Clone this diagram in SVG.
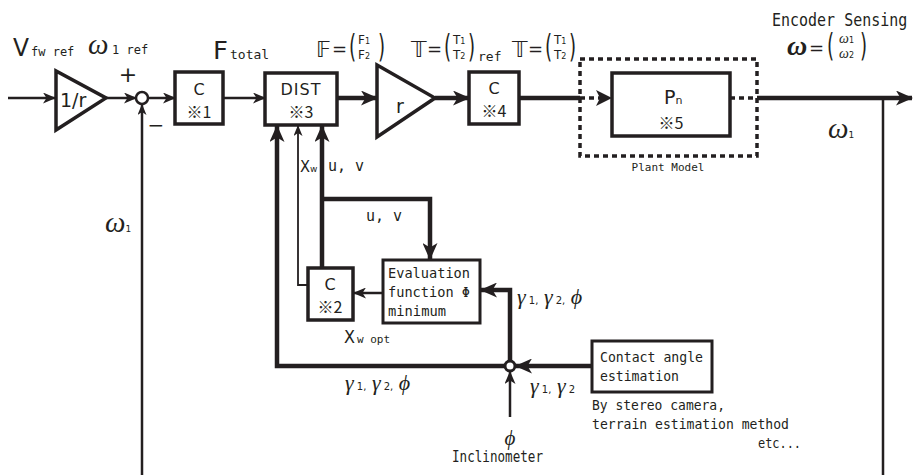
<svg xmlns="http://www.w3.org/2000/svg" width="914" height="475" viewBox="0 0 914 475">
<defs>
<style>
.bx{fill:#fff;stroke:#231f20;stroke-width:3.5}
.bx2{fill:#fff;stroke:#231f20;stroke-width:3}
.ln{fill:none;stroke:#231f20;stroke-width:2.5}
.tn{fill:none;stroke:#231f20;stroke-width:1.8}
.tk{fill:none;stroke:#231f20;stroke-width:4.5}
.dt{fill:none;stroke:#231f20;stroke-width:3.5;stroke-dasharray:5 4}
.t{font-family:"DejaVu Sans Mono","Noto Sans CJK JP",monospace;fill:#231f20}
.j{font-family:"Noto Sans CJK JP","DejaVu Sans",sans-serif;fill:#231f20}
.s{font-family:"DejaVu Sans","Noto Sans CJK JP",sans-serif;fill:#231f20}
.p{font-family:"DejaVu Sans",sans-serif;fill:#231f20;font-size:26px}
.g{font-family:"Liberation Serif","DejaVu Serif",serif;font-style:italic;fill:#231f20}
</style>
<marker id="a" markerUnits="userSpaceOnUse" markerWidth="13" markerHeight="11" refX="12" refY="5.5" orient="auto"><path d="M0,0 L13,5.5 L0,11 L3.5,5.5 Z" fill="#231f20"/></marker>
<marker id="b" markerUnits="userSpaceOnUse" markerWidth="17" markerHeight="15" refX="16" refY="7.5" orient="auto"><path d="M0,0 L17,7.5 L0,15 L4.5,7.5 Z" fill="#231f20"/></marker>
<marker id="c" markerUnits="userSpaceOnUse" markerWidth="11" markerHeight="9" refX="10" refY="4.5" orient="auto"><path d="M0,0 L11,4.5 L0,9 L3,4.5 Z" fill="#231f20"/></marker>
</defs>

<g id="connectors">
<line class="ln" x1="8" y1="98" x2="55" y2="98" marker-end="url(#a)"/>
<line class="ln" x1="106" y1="98" x2="136" y2="98" marker-end="url(#a)"/>
<line class="ln" x1="148" y1="98" x2="175" y2="98" marker-end="url(#a)"/>
<line class="ln" x1="223" y1="98" x2="265" y2="98" marker-end="url(#a)"/>
<line class="tk" x1="337" y1="98" x2="377" y2="98" marker-end="url(#b)"/>
<line class="tk" x1="435" y1="98" x2="469" y2="98" marker-end="url(#b)"/>
<line class="tk" x1="519" y1="98" x2="580" y2="98"/>
<line class="dt" x1="580" y1="98" x2="600" y2="98"/>
<path d="M596,90 L612,98 L596,106 L600,98 Z" fill="#231f20"/>
<line class="dt" x1="730" y1="98" x2="757" y2="98"/>
<line class="tk" x1="757" y1="98" x2="912" y2="98" marker-end="url(#b)"/>
<line class="ln" x1="883" y1="98" x2="883" y2="475"/>
<line class="ln" x1="142" y1="475" x2="142" y2="105" marker-end="url(#c)"/>
<polyline class="tk" points="505,366 277,366 277,126" marker-end="url(#b)"/>
<polyline class="tn" points="308,285 298,285 298,126" marker-end="url(#c)"/>
<line class="tk" x1="322" y1="268" x2="322" y2="126" marker-end="url(#b)"/>
<polyline class="tk" points="322,199 430,199 430,259" marker-end="url(#b)"/>
<line class="ln" x1="383" y1="293" x2="354" y2="293" marker-end="url(#a)"/>
<polyline class="tk" points="510,361 510,290 481,290" marker-end="url(#b)"/>
<line class="tk" x1="592" y1="366" x2="516" y2="366" marker-end="url(#b)"/>
<line class="ln" x1="510" y1="417" x2="510" y2="372" marker-end="url(#a)"/>
</g>

<g id="gain1r">
<polygon class="bx" points="56,71 56,130 106,98"/>
<text class="s" x="60" y="107" font-size="19">1/r</text>
</g>
<g id="sum">
<circle cx="142" cy="98" r="6" fill="#fff" stroke="#231f20" stroke-width="2.5"/>
<text class="s" x="128" y="82" font-size="22" text-anchor="middle">+</text>
<text class="s" x="156" y="132" font-size="20" text-anchor="middle">−</text>
</g>
<g id="c1">
<rect class="bx" x="175" y="72" width="48" height="52"/>
<text class="s" x="199" y="95" font-size="16" text-anchor="middle">C</text>
<text class="j" x="199" y="118" font-size="16" text-anchor="middle">※1</text>
</g>
<g id="dist">
<rect class="bx" x="265" y="73" width="72" height="52"/>
<text class="s" x="301" y="95" font-size="16" text-anchor="middle" letter-spacing="1">DIST</text>
<text class="j" x="301" y="118" font-size="16" text-anchor="middle">※3</text>
</g>
<g id="gainr">
<polygon class="bx" points="377,65 377,137 435,98"/>
<text class="s" x="396" y="113" font-size="19">r</text>
</g>
<g id="c4">
<rect class="bx" x="469" y="72" width="50" height="52"/>
<text class="s" x="494" y="94" font-size="16" text-anchor="middle">C</text>
<text class="j" x="494" y="117" font-size="16" text-anchor="middle">※4</text>
</g>
<g id="plant">
<rect class="dt" x="580" y="59" width="177" height="97"/>
<rect class="bx" x="612" y="73" width="118" height="63"/>
<text class="s" x="664" y="104" font-size="19">P<tspan font-size="11">n</tspan></text>
<text class="j" x="671" y="129" font-size="16" text-anchor="middle">※5</text>
<text class="t" x="668" y="171" font-size="11" text-anchor="middle">Plant Model</text>
</g>
<g id="c2">
<rect class="bx" x="308" y="268" width="45" height="52"/>
<text class="s" x="330" y="290" font-size="16" text-anchor="middle">C</text>
<text class="j" x="330" y="313" font-size="16" text-anchor="middle">※2</text>
</g>
<g id="eval">
<rect class="bx2" x="383" y="260" width="97" height="63"/>
<text class="t" x="388" y="278" font-size="14" textLength="82" lengthAdjust="spacingAndGlyphs">Evaluation</text>
<text class="t" x="388" y="297" font-size="14" textLength="82" lengthAdjust="spacingAndGlyphs">function Φ</text>
<text class="t" x="388" y="316" font-size="14" textLength="58" lengthAdjust="spacingAndGlyphs">minimum</text>
</g>
<g id="contact">
<rect class="bx2" x="592" y="341" width="120" height="51"/>
<text class="t" x="600" y="362" font-size="14" textLength="103" lengthAdjust="spacingAndGlyphs">Contact angle</text>
<text class="t" x="600" y="381" font-size="14" textLength="79" lengthAdjust="spacingAndGlyphs">estimation</text>
<text class="t" x="592" y="410" font-size="14" textLength="133" lengthAdjust="spacingAndGlyphs">By stereo camera,</text>
<text class="t" x="592" y="429" font-size="14" textLength="197" lengthAdjust="spacingAndGlyphs">terrain estimation method</text>
<text class="t" x="758" y="448" font-size="14" textLength="43" lengthAdjust="spacingAndGlyphs">etc...</text>
</g>
<g id="junction">
<circle cx="510" cy="366" r="5" fill="#fff" stroke="#231f20" stroke-width="3"/>
</g>
<g id="inclinometer">
<text class="g" x="510" y="445" font-size="21" text-anchor="middle">ϕ</text>
<text class="t" x="452" y="462" font-size="15" textLength="91" lengthAdjust="spacingAndGlyphs">Inclinometer</text>
</g>

<g id="labels">
<text class="s" x="13" y="56" font-size="24" textLength="16" lengthAdjust="spacingAndGlyphs">V</text>
<text class="t" x="31" y="56" font-size="12">fw ref</text>
<text class="g" x="88" y="54" font-size="29">ω</text>
<text class="t" x="112" y="54" font-size="12">1 ref</text>
<text class="s" x="213" y="59" font-size="25" textLength="15" lengthAdjust="spacingAndGlyphs">F</text>
<text class="t" x="230" y="59" font-size="13">total</text>

<text class="s" x="316" y="57" font-size="22">𝔽</text>
<text class="s" x="332" y="55" font-size="18">=</text>
<text class="p" transform="translate(349,57) scale(0.7,1.25)">(</text>
<text class="s" x="358" y="44" font-size="12">F<tspan font-size="8">1</tspan></text>
<text class="s" x="358" y="59" font-size="12">F<tspan font-size="8">2</tspan></text>
<text class="p" transform="translate(378,57) scale(0.7,1.25)">)</text>

<text class="s" x="411" y="57" font-size="22">𝕋</text>
<text class="s" x="427" y="55" font-size="18">=</text>
<text class="p" transform="translate(444,57) scale(0.7,1.25)">(</text>
<text class="s" x="453" y="44" font-size="12">T<tspan font-size="8">1</tspan></text>
<text class="s" x="453" y="59" font-size="12">T<tspan font-size="8">2</tspan></text>
<text class="p" transform="translate(468,57) scale(0.7,1.25)">)</text>
<text class="t" x="478" y="61" font-size="13">ref</text>

<text class="s" x="512" y="57" font-size="22">𝕋</text>
<text class="s" x="528" y="55" font-size="18">=</text>
<text class="p" transform="translate(545,57) scale(0.7,1.25)">(</text>
<text class="s" x="554" y="44" font-size="12">T<tspan font-size="8">1</tspan></text>
<text class="s" x="554" y="59" font-size="12">T<tspan font-size="8">2</tspan></text>
<text class="p" transform="translate(569,57) scale(0.7,1.25)">)</text>

<text class="t" transform="translate(772,26) scale(1,1.2)" font-size="15">Encoder Sensing</text>
<text class="g" x="787" y="55" font-size="28" font-weight="bold">ω</text>
<text class="s" x="809" y="54" font-size="18">=</text>
<text class="p" transform="translate(827,56) scale(0.7,1.2)">(</text>
<text class="g" x="839" y="43" font-size="14">ω<tspan class="s" font-style="normal" font-size="8">1</tspan></text>
<text class="g" x="839" y="58" font-size="14">ω<tspan class="s" font-style="normal" font-size="8">2</tspan></text>
<text class="p" transform="translate(860,56) scale(0.7,1.2)">)</text>

<text class="g" x="828" y="138" font-size="29">ω<tspan class="s" font-style="normal" font-size="9">1</tspan></text>
<text class="g" x="105" y="232" font-size="29">ω<tspan class="s" font-style="normal" font-size="9">1</tspan></text>

<text class="s" x="300" y="172" font-size="16" textLength="10" lengthAdjust="spacingAndGlyphs">X</text>
<text class="s" x="310" y="172" font-size="9">w</text>
<text class="t" x="328" y="171" font-size="15">u, v</text>
<text class="t" x="366" y="221" font-size="15">u, v</text>
<text class="s" x="344" y="343" font-size="17" textLength="11" lengthAdjust="spacingAndGlyphs">X</text>
<text class="t" x="357" y="343" font-size="11">w opt</text>

<text class="g" x="517" y="304" font-size="22">γ<tspan class="s" font-style="normal" font-size="10"> 1,</tspan> γ<tspan class="s" font-style="normal" font-size="10"> 2,</tspan> ϕ</text>
<text class="g" x="530" y="393" font-size="22">γ<tspan class="s" font-style="normal" font-size="10"> 1,</tspan> γ<tspan class="s" font-style="normal" font-size="10"> 2</tspan></text>
<text class="g" x="345" y="390" font-size="22">γ<tspan class="s" font-style="normal" font-size="10"> 1,</tspan> γ<tspan class="s" font-style="normal" font-size="10"> 2,</tspan> ϕ</text>
</g>
</svg>
